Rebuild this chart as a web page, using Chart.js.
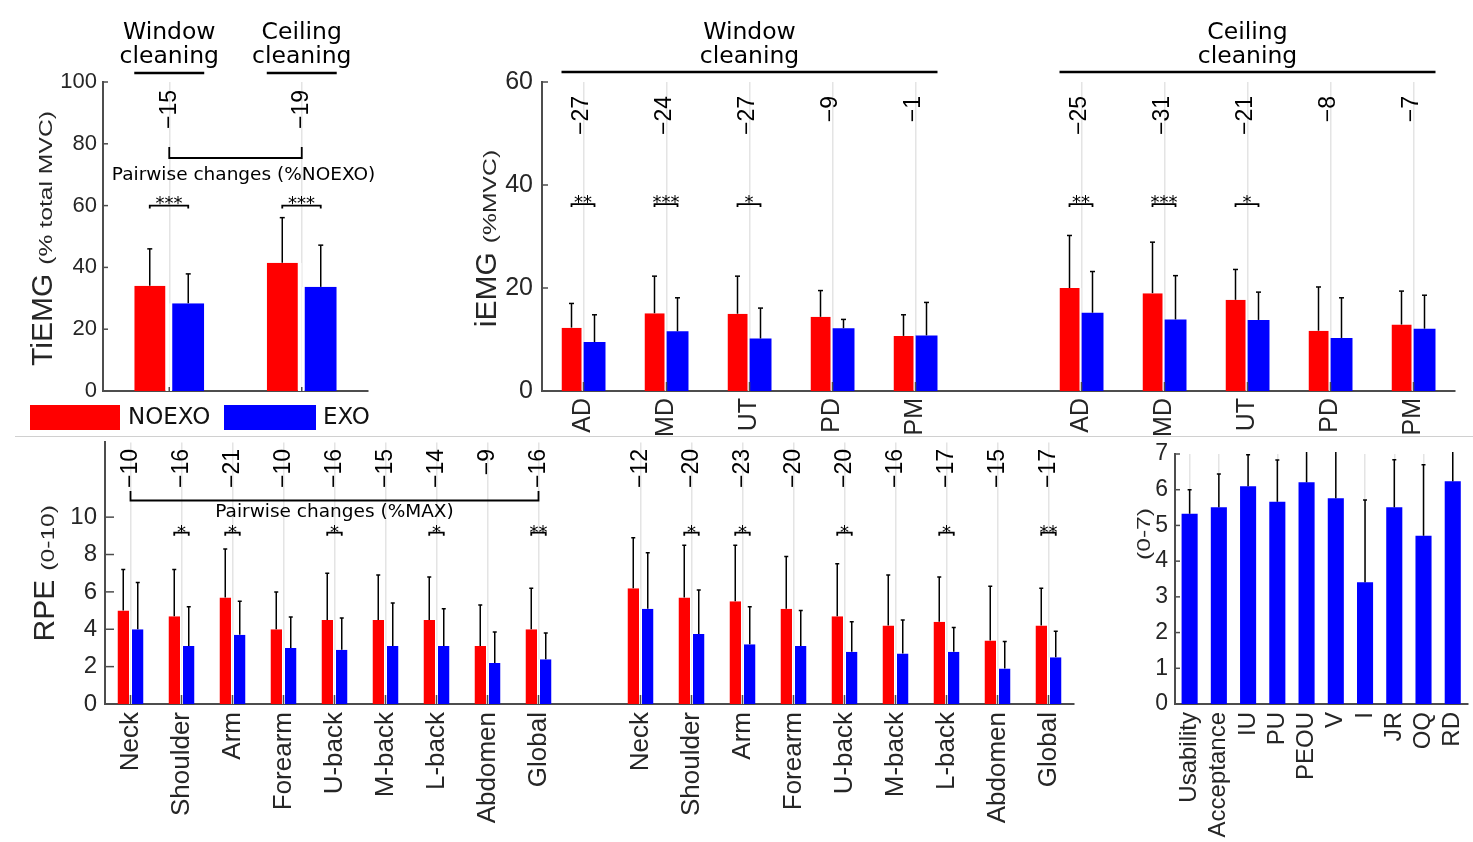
<!DOCTYPE html>
<html>
<head>
<meta charset="utf-8">
<script src="https://cdn.jsdelivr.net/npm/chart.js@4.4.0/dist/chart.umd.min.js"></script>
<style>
  html, body { margin: 0; padding: 0; background: #fff; overflow: hidden; }
  #fig { position: relative; width: 1473px; height: 842px; overflow: hidden; background: #fff; }
  #fig canvas { position: absolute; }
  .sep { position: absolute; left: 15px; top: 436px; width: 1458px; height: 1px; background: #d0d0d0; }
</style>
</head>
<body>
<div id="fig">
  <canvas id="tiemg" width="380" height="436" style="left:0;top:0"></canvas>
  <canvas id="iemg" width="1033" height="436" style="left:440px;top:0"></canvas>
  <div class="sep"></div>
  <canvas id="rpe" width="1090" height="422" style="left:0;top:420px"></canvas>
  <canvas id="quest" width="390" height="422" style="left:1100px;top:420px"></canvas>
</div>
<script>
// ---- data ----
const tiemgCats = ['Window cleaning', 'Ceiling cleaning'];
const tiemgNoexo = [34.1, 41.5];
const tiemgExo = [28.4, 33.7];
const tiemgNoexoSd = [11.9, 14.6];
const tiemgExoSd = [9.5, 13.5];
const tiemgPct = ['\u221215', '\u221219'];
const tiemgSig = ['***', '***'];

const iemgCats = ['AD', 'MD', 'UT', 'PD', 'PM', '', 'AD', 'MD', 'UT', 'PD', 'PM'];
const iemgNoexo = [12.3, 15.1, 15.0, 14.4, 10.7, null, 20.0, 19.0, 17.7, 11.7, 12.9];
const iemgExo = [9.5, 11.6, 10.2, 12.2, 10.8, null, 15.2, 13.9, 13.8, 10.3, 12.1];
const iemgNoexoSd = [4.7, 7.2, 7.3, 5.1, 4.1, null, 10.2, 9.9, 5.9, 8.5, 6.5];
const iemgExoSd = [5.3, 6.5, 5.9, 1.7, 6.4, null, 8.0, 8.5, 5.4, 7.8, 6.5];
const iemgPct = ['\u221227', '\u221224', '\u221227', '\u22129', '\u22121', '', '\u221225', '\u221231', '\u221221', '\u22128', '\u22127'];
const iemgSig = ['**', '***', '*', '', '', '', '**', '***', '*', '', ''];

const rpeCats = ['Neck', 'Shoulder', 'Arm', 'Forearm', 'U-back', 'M-back', 'L-back', 'Abdomen', 'Global', '',
                 'Neck', 'Shoulder', 'Arm', 'Forearm', 'U-back', 'M-back', 'L-back', 'Abdomen', 'Global'];
const rpeNoexo = [5.0, 4.7, 5.7, 4.0, 4.5, 4.5, 4.5, 3.1, 4.0, null, 6.2, 5.7, 5.5, 5.1, 4.7, 4.2, 4.4, 3.4, 4.2];
const rpeExo = [4.0, 3.1, 3.7, 3.0, 2.9, 3.1, 3.1, 2.2, 2.4, null, 5.1, 3.75, 3.2, 3.1, 2.8, 2.7, 2.8, 1.9, 2.5];
const rpeNoexoSd = [2.2, 2.5, 2.6, 2.0, 2.5, 2.4, 2.3, 2.2, 2.2, null, 2.7, 2.8, 3.0, 2.8, 2.8, 2.7, 2.4, 2.9, 2.0];
const rpeExoSd = [2.5, 2.1, 1.8, 1.65, 1.7, 2.3, 2.0, 1.65, 1.4, null, 3.0, 2.35, 2.0, 1.9, 1.6, 1.8, 1.3, 1.45, 1.4];
const rpePct = ['\u221210', '\u221216', '\u221221', '\u221210', '\u221216', '\u221215', '\u221214', '\u22129', '\u221216', '',
                '\u221212', '\u221220', '\u221223', '\u221220', '\u221220', '\u221216', '\u221217', '\u221215', '\u221217'];
const rpeSig = ['', '*', '*', '', '*', '', '*', '', '**', '', '', '*', '*', '', '*', '', '*', '', '**'];

const questCats = ['Usability', 'Acceptance', 'IU', 'PU', 'PEOU', 'V', 'I', 'JR', 'OQ', 'RD'];
const questVals = [5.33, 5.51, 6.10, 5.66, 6.21, 5.76, 3.41, 5.51, 4.71, 6.24];
const questSd = [0.67, 0.93, 0.88, 1.17, 1.0, 1.4, 2.3, 1.33, 1.99, 1.0];

const RED = '#ff0000', BLUE = '#0000ff';
const AXIS = '#4d4d4d', GRID = '#e4e4e4', TXT = '#262626';
const SMALL_FONT = '19px "Liberation Sans"', SMALL_STRETCH = 1.3;
const PCT_FONT = '23px "Liberation Sans"';

Chart.defaults.font.family = 'Liberation Sans';
Chart.defaults.color = TXT;
Chart.defaults.animation = false;

function seg(ctx, x1, y1, x2, y2) {
    ctx.beginPath(); ctx.moveTo(x1, y1); ctx.lineTo(x2, y2); ctx.stroke();
}

function errX(chart, di, j) {
    const el = chart.getDatasetMeta(di).data[j];
    const bw = chart.data.datasets[di].borderWidth || {};
    const l = el.x - el.width / 2 + (bw.left || 0);
    const r = el.x + el.width / 2 - (bw.right || 0);
    return (l + r) / 2;
}

const figPlugin = {
    id: 'fig',
    afterDraw(chart, args, o) {
        const ctx = chart.ctx, xs = chart.scales.x, ys = chart.scales.y, a = chart.chartArea;
        ctx.save();
        ctx.lineCap = 'butt';

        // inward tick marks
        ctx.strokeStyle = AXIS; ctx.lineWidth = 1.5;
        if (o.xTick) chart.data.labels.forEach((lab, j) => {
            if (!lab) return;
            const px = xs.getPixelForValue(j);
            seg(ctx, px, a.bottom, px, a.bottom - o.xTick);
        });
        if (o.yTick) ys.ticks.forEach(t => {
            const py = ys.getPixelForValue(t.value);
            seg(ctx, a.left, py, a.left + o.yTick, py);
        });

        // error bars
        ctx.save();
        ctx.beginPath(); ctx.rect(a.left, a.top - 2, a.width, a.height + 2); ctx.clip();
        ctx.strokeStyle = '#000'; ctx.lineWidth = 1.5;
        chart.data.datasets.forEach((ds, di) => {
            ds.sd.forEach((sd, j) => {
                const v = ds.data[j];
                if (v == null || sd == null) return;
                const cx = errX(chart, di, j);
                const y0 = ys.getPixelForValue(v), y1 = ys.getPixelForValue(v + sd);
                seg(ctx, cx, y0, cx, y1);
                seg(ctx, cx - o.cap, y1, cx + o.cap, y1);
            });
        });
        ctx.restore();

        ctx.fillStyle = '#000'; ctx.strokeStyle = '#000';

        // percent changes
        if (o.pct) {
            ctx.font = PCT_FONT;
            ctx.textAlign = 'right'; ctx.textBaseline = 'middle';
            const py = ys.getPixelForValue(o.pctY);
            o.pct.forEach((s, j) => {
                if (!s) return;
                ctx.save();
                ctx.translate(xs.getPixelForValue(j) + (o.pctDx || 0), py);
                ctx.rotate(-Math.PI / 2);
                ctx.fillText(s, 0, 0);
                ctx.restore();
            });
        }

        // significance brackets
        if (o.sig) {
            const py = ys.getPixelForValue(o.sigY);
            ctx.lineWidth = 1.8;
            o.sig.forEach((s, j) => {
                if (!s) return;
                const x1 = errX(chart, 0, j), x2 = errX(chart, 1, j);
                ctx.beginPath();
                ctx.moveTo(x1, py + 3); ctx.lineTo(x1, py); ctx.lineTo(x2, py); ctx.lineTo(x2, py + 3);
                ctx.stroke();
                ctx.font = o.sigFont; ctx.textAlign = 'center'; ctx.textBaseline = 'alphabetic';
                ctx.fillText(s, (x1 + x2) / 2, py + o.sigDy);
            });
        }

        // pairwise bracket
        if (o.pair) {
            const p = o.pair;
            const xa = xs.getPixelForValue(p.from), xb = xs.getPixelForValue(p.to);
            const yt = ys.getPixelForValue(p.top), yb = ys.getPixelForValue(p.bar);
            ctx.lineWidth = 1.8;
            ctx.beginPath();
            ctx.moveTo(xa, yt); ctx.lineTo(xa, yb); ctx.lineTo(xb, yb); ctx.lineTo(xb, yt);
            ctx.stroke();
            ctx.font = '18.5px "DejaVu Sans"'; ctx.textAlign = 'center'; ctx.textBaseline = 'alphabetic';
            ctx.fillText(p.text, (xa + xb) / 2 + (p.dx || 0), ys.getPixelForValue(p.textY));
        }

        // group headers
        if (o.groups) {
            const last = chart.data.datasets.length - 1;
            o.groups.forEach(g => {
                const m0 = chart.getDatasetMeta(0).data[g.from];
                const m1 = chart.getDatasetMeta(last).data[g.to];
                const xl = m0.x - m0.width / 2, xr = m1.x + m1.width / 2;
                ctx.lineWidth = 2.4;
                seg(ctx, xl, a.top + o.groupLine, xr, a.top + o.groupLine);
                ctx.font = '23.5px "DejaVu Sans"'; ctx.textAlign = 'center'; ctx.textBaseline = 'alphabetic';
                g.text.forEach((t, k) => ctx.fillText(t, (xl + xr) / 2, a.top + o.groupText[k]));
            });
        }

        // y title: big word + stretched small part
        if (o.ytitle) {
            const t = o.ytitle;
            ctx.fillStyle = TXT;
            ctx.font = '30px "Liberation Sans"';
            const wb = t.big ? ctx.measureText(t.big).width : 0;
            ctx.font = SMALL_FONT;
            const ws = ctx.measureText(t.small).width * SMALL_STRETCH;
            const gap = t.big ? 9 : 0;
            const total = wb + gap + ws;
            ctx.save();
            ctx.translate(a.left - t.dx, (a.top + a.bottom) / 2 + (t.dy || 0));
            ctx.rotate(-Math.PI / 2);
            ctx.textAlign = 'left'; ctx.textBaseline = 'alphabetic';
            if (t.big) { ctx.font = '30px "Liberation Sans"'; ctx.fillText(t.big, -total / 2, 0); }
            ctx.translate(-total / 2 + wb + gap, 0);
            ctx.scale(SMALL_STRETCH, 1);
            ctx.font = SMALL_FONT;
            ctx.fillText(t.small, 0, 0);
            ctx.restore();
        }

        // legend
        if (o.legend) {
            ctx.font = '23px "DejaVu Sans"'; ctx.textAlign = 'left'; ctx.textBaseline = 'middle';
            chart.data.datasets.forEach((ds, di) => {
                const L = o.legend[di];
                ctx.fillStyle = ds.backgroundColor;
                ctx.fillRect(L.x, L.y, L.w, L.h);
                ctx.fillStyle = '#111';
                ctx.fillText(ds.label, L.tx, L.y + L.h / 2 + 1);
            });
        }
        ctx.restore();
    }
};

function makeScales(s) {
    return {
        x: {
            offset: true,
            grid: {
                display: true, offset: false, drawTicks: false, lineWidth: 1.5,
                color: c => (c.tick && c.tick.label) ? GRID : 'rgba(0,0,0,0)'
            },
            border: { display: true, color: AXIS, width: 2 },
            ticks: {
                display: s.xLabels, autoSkip: false, minRotation: 90, maxRotation: 90,
                padding: s.xPad || 0, font: { size: s.xSize || 24 }, color: TXT
            },
            afterFit: sc => { sc.height = s.xH; }
        },
        y: {
            min: 0, max: s.yMax,
            grid: { display: false, drawTicks: false },
            border: { display: true, color: AXIS, width: 2 },
            ticks: { stepSize: s.step, padding: s.yPad, font: { size: s.ySize }, color: TXT },
            afterBuildTicks: sc => { if (s.yShowMax != null) sc.ticks = sc.ticks.filter(t => t.value <= s.yShowMax); },
            afterFit: sc => { sc.width = s.yW; }
        }
    };
}

function pairData(labels, noexo, exo, noexoSd, exoSd, cat, redGap, blueGap) {
    return {
        labels: labels,
        datasets: [
            { label: 'NOEXO', data: noexo, sd: noexoSd, backgroundColor: RED, borderColor: '#fff',
              borderWidth: { right: redGap }, borderSkipped: false, categoryPercentage: cat, barPercentage: 1 },
            { label: 'EXO', data: exo, sd: exoSd, backgroundColor: BLUE, borderColor: '#fff',
              borderWidth: { left: blueGap }, borderSkipped: false, categoryPercentage: cat, barPercentage: 1 }
        ]
    };
}

const noUi = { legend: { display: false }, tooltip: { enabled: false } };

// TiEMG
new Chart(document.getElementById('tiemg'), {
    type: 'bar',
    data: pairData(tiemgCats, tiemgNoexo, tiemgExo, tiemgNoexoSd, tiemgExoSd, 0.528, 4, 3),
    options: {
        responsive: false,
        layout: { padding: { left: 0, right: 12, top: 82, bottom: 0 } },
        scales: makeScales({ xLabels: false, xH: 45, yMax: 100, step: 20, yPad: 6, ySize: 22, yW: 103 }),
        plugins: Object.assign({}, noUi, {
            fig: {
                xTick: 4, yTick: 5, cap: 2.5,
                pct: tiemgPct, pctY: 97.4,
                sig: tiemgSig, sigY: 60, sigDy: 3.5, sigFont: '18px "DejaVu Sans"',
                pair: { from: 0, to: 1, top: 79, bar: 75.4, text: 'Pairwise changes (%NOEXO)', textY: 68.3, dx: 8 },
                groups: [{ from: 0, to: 0, text: ['Window', 'cleaning'] }, { from: 1, to: 1, text: ['Ceiling', 'cleaning'] }],
                groupLine: -9, groupText: [-43, -19],
                ytitle: { big: 'TiEMG', small: '(% total MVC)', dx: 51, dy: 2 },
                legend: [{ x: 30, y: 405, w: 90, h: 25, tx: 128 }, { x: 224, y: 405, w: 92, h: 25, tx: 323 }]
            }
        })
    },
    plugins: [figPlugin]
});

// iEMG
new Chart(document.getElementById('iemg'), {
    type: 'bar',
    data: pairData(iemgCats, iemgNoexo, iemgExo, iemgNoexoSd, iemgExoSd, 0.53, 2, 0),
    options: {
        responsive: false,
        layout: { padding: { left: 0, right: 18, top: 82, bottom: 0 } },
        scales: makeScales({ xLabels: true, xPad: 7, xSize: 25, xH: 45, yMax: 60, step: 20, yPad: 9, ySize: 25, yW: 102 }),
        plugins: Object.assign({}, noUi, {
            fig: {
                xTick: 9, yTick: 6, cap: 2.5,
                pct: iemgPct, pctY: 57.3, pctDx: -2,
                sig: iemgSig, sigY: 36.3, sigDy: 3.5, sigFont: '18px "DejaVu Sans"',
                groups: [{ from: 0, to: 4, text: ['Window', 'cleaning'] }, { from: 6, to: 10, text: ['Ceiling', 'cleaning'] }],
                groupLine: -10, groupText: [-43, -19],
                ytitle: { big: 'iEMG', small: '(%MVC)', dx: 46, dy: 2 }
            }
        })
    },
    plugins: [figPlugin]
});

// RPE
new Chart(document.getElementById('rpe'), {
    type: 'bar',
    data: pairData(rpeCats, rpeNoexo, rpeExo, rpeNoexoSd, rpeExoSd, 0.51, 1.5, 1.5),
    options: {
        responsive: false,
        layout: { padding: { left: 0, right: 16, top: 15, bottom: 0 } },
        scales: makeScales({ xLabels: true, xPad: 8, xSize: 26, xH: 138, yMax: 14, step: 2, yShowMax: 10, yPad: 8, ySize: 24, yW: 105 }),
        plugins: Object.assign({}, noUi, {
            fig: {
                xTick: 9, yTick: 9, cap: 2,
                pct: rpePct, pctY: 13.65,
                sig: rpeSig, sigY: 9.17, sigDy: 5, sigFont: '18px "DejaVu Sans"',
                pair: { from: 0, to: 8, top: 11.4, bar: 10.89, text: 'Pairwise changes (%MAX)', textY: 10.0, dx: 0 },
                ytitle: { big: 'RPE', small: '(0-10)', dx: 51, dy: 0 }
            }
        })
    },
    plugins: [figPlugin]
});

// Questionnaire
new Chart(document.getElementById('quest'), {
    type: 'bar',
    data: {
        labels: questCats,
        datasets: [{ label: 'EXO', data: questVals, sd: questSd, backgroundColor: BLUE,
                     borderWidth: 0, categoryPercentage: 0.55, barPercentage: 1 }]
    },
    options: {
        responsive: false,
        layout: { padding: { left: 0, right: 9, top: 34, bottom: 0 } },
        scales: makeScales({ xLabels: true, xPad: 8, xSize: 24, xH: 138, yMax: 7, step: 1, yPad: 7, ySize: 23, yW: 75 }),
        plugins: Object.assign({}, noUi, {
            fig: {
                xTick: 0, yTick: 5, cap: 2,
                ytitle: { big: '', small: '(0-7)', dx: 25, dy: -45 }
            }
        })
    },
    plugins: [figPlugin]
});
</script>
</body>
</html>
